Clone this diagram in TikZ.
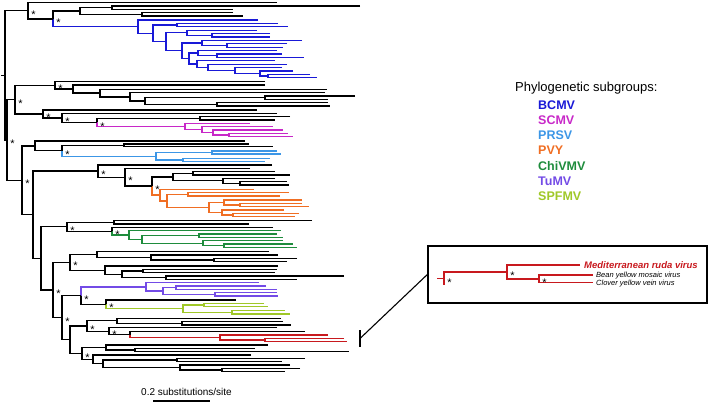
\documentclass[tikz,border=0pt]{standalone}
\usepackage{fontspec}
\setmainfont{Liberation Sans}
\usepackage{tikz}
\usetikzlibrary{calc}

\definecolor{cBCMV}{RGB}{25,25,215}
\definecolor{cSCMV}{RGB}{200,40,200}
\definecolor{cPRSV}{RGB}{60,150,230}
\definecolor{cPVY}{RGB}{240,110,35}
\definecolor{cChiVMV}{RGB}{30,140,60}
\definecolor{cTuMV}{RGB}{115,75,230}
\definecolor{cSPFMV}{RGB}{160,200,40}
\definecolor{cMRV}{RGB}{200,25,30}

% tree node: [style of lower branch]{name}{x}{first child}{second child}
\newcommand{\nd}[5][]{%
    \path let \p1=(#4), \p2=(#5), \p3=(#3,0) in coordinate (#2) at (\x3, {0.5*\y1+0.5*\y2});
    \draw[branch] (#4) -| (#2);
    \draw[branch,#1] (#2) |- (#5);
}

\begin{document}
\begin{tikzpicture}[x=1pt, y=-1pt,
    branch/.style={line width=1.3pt},
    sig/.style={anchor=base, xshift=5.5pt, yshift=-7.6pt, inner sep=0pt, font=\fontsize{11}{11}\selectfont},
    grp/.style={anchor=base west, inner sep=0pt, font=\bfseries\fontsize{12.5}{12.5}\selectfont},
    lbl/.style={anchor=base west, inner sep=0pt}]
    \useasboundingbox (0,0) rectangle (711,404);

    % BCMV and the top clade
    \nd{a1}{112}{360,6}{233,9.3}
    \nd{a2}{142}{233,12.7}{243,16}
    \nd{a3}{80}{a1}{a2}
    \begin{scope}[cBCMV]
        \nd{b1}{177}{278,23.4}{288,26.8}
        \nd{b2}{212}{270,33.6}{270,37}
        \nd{b3}{187}{257,30.2}{b2}
        \nd{b4}{227}{287,43.8}{283,47.2}
        \nd{b5}{202}{302,40.4}{b4}
        \nd{b6}{217}{282,54}{304,57.4}
        \nd{b7}{198}{277,50.6}{b6}
        \nd{b8}{268}{310,74.4}{317,77.8}
        \nd{b9}{260}{293,71}{b8}
        \nd{b10}{235}{282,67.6}{b9}
        \nd{b11}{208}{287,64.2}{b10}
        \nd{b12}{197}{275,60.8}{b11}
        \nd{b13}{189}{b7}{b12}
        \nd{b14}{182}{b5}{b13}
        \nd{b15}{166}{b3}{b14}
        \nd{b16}{153}{b1}{b15}
        \nd{b17}{138}{258,20}{b16}
    \end{scope}
    \nd[cBCMV]{a4}{53}{a3}{b17}
    \nd{a5}{28}{277,2.7}{a4}

    % SCMV
    \nd{c1}{265}{355,96}{328,99.3}
    \nd{c2}{217}{328,102.7}{330,106}
    \nd{c3}{145}{c1}{c2}
    \nd{c4}{130}{325,92.7}{c3}
    \nd{c5}{100}{327,89.3}{c4}
    \nd{c6}{73}{265,85}{c5}
    \nd{c7}{55}{265,81.7}{c6}
    \nd{c8}{200}{290,116.7}{275,120}
    \begin{scope}[cSCMV]
        \nd{m1}{229}{288,133.3}{293,136.7}
        \nd{m2}{213}{283,130}{m1}
        \nd{m3}{202}{273,126.7}{m2}
        \nd{m4}{185}{250,123.3}{m3}
    \end{scope}
    \nd[cSCMV]{c9}{97}{c8}{m4}
    \nd{c10}{62}{277,113.3}{c9}
    \nd{c11}{43}{257,110}{c10}
    \nd{c12}{15}{c7}{c11}

    % PRSV
    \nd{p1}{124}{249,144}{273,146.7}
    \begin{scope}[cPRSV]
        \nd{q1}{212}{277,151}{281,154}
        \nd{q2}{183}{270,158.3}{265,161.7}
        \nd{q3}{156}{q1}{q2}
    \end{scope}
    \nd[cPRSV]{p2}{62}{p1}{q3}
    \nd{p3}{35}{245,141}{p2}

    % PVY
    \nd{k1}{193}{275,171.7}{290,175}
    \nd{k2}{240}{287,181.7}{289,185}
    \nd{k3}{223}{275,178.3}{k2}
    \nd{k4}{173}{k1}{k3}
    \begin{scope}[cPVY]
        \nd{o1}{188}{289,192.7}{280,196}
        \nd{o2}{240}{302,203.3}{309,206.7}
        \nd{o3}{224}{302,200}{o2}
        \nd{o4}{233}{299,213.3}{295,216.7}
        \nd{o5}{222}{284,210}{o4}
        \nd{o6}{209}{o3}{o5}
        \nd{o7}{167}{o1}{o6}
        \nd{o8}{160}{254,189.3}{o7}
    \end{scope}
    \nd[cPVY]{k5}{152}{k4}{o8}
    \nd{k6}{125}{250,168.3}{k5}
    \nd{k7}{98}{272,165}{k6}

    % ChiVMV
    \nd{g1}{114}{312,220.7}{249,224}
    \begin{scope}[cChiVMV]
        \nd{v1}{199}{277,234}{283,237.3}
        \nd{v2}{224}{293,244}{297,247.3}
        \nd{v3}{203}{283,240.7}{v2}
        \nd{v4}{142}{v1}{v3}
        \nd{v5}{129}{281,230.7}{v4}
    \end{scope}
    \nd[cChiVMV]{g2}{112}{273,227.3}{v5}
    \nd{g3}{67}{g1}{g2}

    \nd{h1}{214}{297,258.3}{287,261.7}
    \nd{h2}{151}{278,255}{h1}
    \nd{h3}{97}{269,251.7}{h2}
    \nd{h4}{143}{277,269.3}{275,272.7}
    \nd{h5}{166}{344,276}{297,279.3}
    \nd{h6}{122}{h4}{h5}
    \nd{h7}{105}{278,266}{h6}
    \nd{h8}{70}{h3}{h7}

    % TuMV and SPFMV
    \begin{scope}[cTuMV]
        \nd{u1}{176}{266,286}{277,289.3}
        \nd{u2}{215}{277,292.7}{278,296}
        \nd{u3}{163}{u1}{u2}
        \nd{u4}{146}{259,282.7}{u3}
    \end{scope}
    \begin{scope}[cSPFMV]
        \nd{w1}{204}{264,303.3}{268,306.7}
        \nd{w2}{232}{285,310.7}{290,314}
        \nd{w3}{183}{w1}{w2}
    \end{scope}
    \nd[cSPFMV]{l1}{106}{236,300}{w3}
    \nd[cTuMV]{d1}{81}{l1}{u4}

    % Mediterranean ruda virus
    \nd{f1}{182}{283,321.7}{291,325}
    \nd{f2}{117}{281,318.3}{f1}
    \begin{scope}[cMRV]
        \nd{r1}{265}{344,338.3}{347,341.7}
        \nd{r2}{220}{328,335}{r1}
    \end{scope}
    \nd[cMRV]{f3}{130}{305,331.7}{r2}
    \nd{f4}{109}{277,327.7}{f3}
    \nd{f5}{87}{f2}{f4}

    \nd{s1}{135}{255,348.3}{349,351.7}
    \nd{s2}{106}{268,345}{s1}
    \nd{s3}{177}{305,358.3}{282,361.7}
    \nd{s4}{222}{300,368.3}{285,371.7}
    \nd{s5}{180}{290,365}{s4}
    \nd{s6}{103}{s3}{s5}
    \nd{s7}{93}{251,355}{s6}
    \nd{s8}{82}{s2}{s7}

    % backbone
    \nd{e1}{70}{f5}{s8}
    \nd{e2}{62}{d1}{e1}
    \nd{e3}{53}{h8}{e2}
    \nd{e4}{41}{g3}{e3}
    \nd{e5}{33}{k7}{e4}
    \nd{e6}{22}{p3}{e5}
    \nd{e7}{7}{c12}{e6}
    \nd{rt}{5}{a5}{e7}
    \draw[branch] (rt) -- ([xshift=-4pt]rt);

    \foreach \n in {a5,a4,c7,c12,c11,c10,c9,e7,p2,e6,k7,k6,k5,g3,g2,h8,e3,d1,l1,e2,f5,f4,s8}
        \node[sig] at (\n) {*};

    % legend
    \node[lbl, font=\fontsize{13}{13}\selectfont] (legtitle) at (515,91) {Phylogenetic subgroups:};
    \foreach \g [count=\i] in {BCMV,SCMV,PRSV,PVY,ChiVMV,TuMV,SPFMV}
        \node[grp, text=c\g] (\g) at (538,{109.3+15.2*(\i-1)}) {\g};

    % inset
    \node[draw, line width=1.3pt, minimum width=279pt, minimum height=57pt, inner sep=0pt] (inset) at (567.5,274.5) {};
    \begin{scope}[cMRV]
        \nd{i3}{539}{593,275}{593,282.7}
        \nd{i2}{507}{580,265}{i3}
        \nd{i1}{444}{i2}{444,285}
        \draw[branch] (i1) -- ([xshift=-7pt]i1);
    \end{scope}
    \foreach \n in {i1,i2,i3}
        \node[sig] at (\n) {*};
    \node[lbl, text=cMRV, font=\bfseries\itshape\fontsize{9.5}{9.5}\selectfont] (mrv) at (584,268.5) {Mediterranean ruda virus};
    \node[lbl, font=\itshape\fontsize{7.5}{7.5}\selectfont] (bymv) at (596,277.5) {Bean yellow mosaic virus};
    \node[lbl, font=\itshape\fontsize{7.5}{7.5}\selectfont] (clyvv) at (596,285.2) {Clover yellow vein virus};

    \coordinate (tick) at (360,338.5);
    \draw[branch] ([yshift=8.5pt]tick) -- ([yshift=-8.5pt]tick);
    \draw[line width=1.1pt] (tick) -- (inset.west);

    % scale bar
    \coordinate (bar0) at (153,401);
    \coordinate (bar1) at (210,401);
    \draw[branch] (bar0) -- (bar1);
    \node[anchor=base, inner sep=0pt, font=\fontsize{10}{10}\selectfont] (bartext) at (186.5,395) {0.2 substitutions/site};
\end{tikzpicture}
\end{document}
